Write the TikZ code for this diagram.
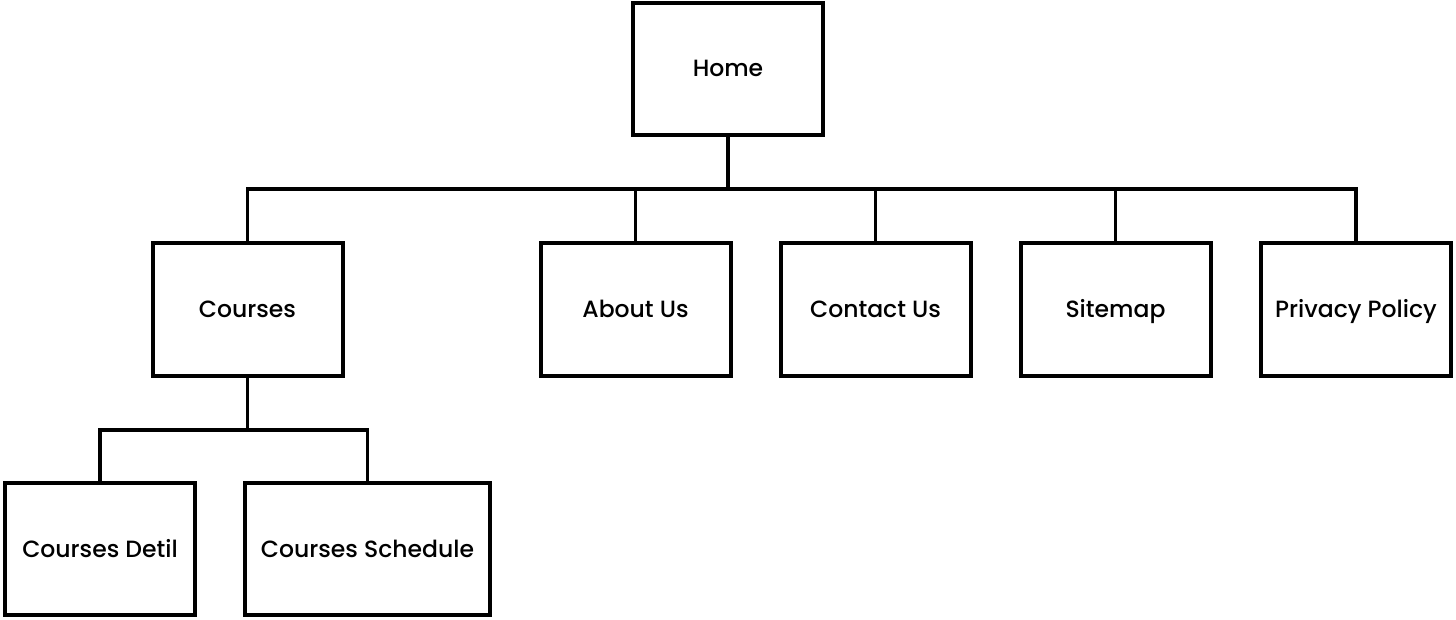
\documentclass[tikz,border=0pt]{standalone}
\usepackage{fontspec}
\setmainfont{Poppins}[UprightFont=* Medium]
\tikzset{
  pagebox/.style={draw, line width=4pt, rectangle, inner sep=2pt, outer sep=0pt,
    minimum width=#1, minimum height=132pt, text height=1.6em, text depth=0pt,
    font=\fontsize{23.5}{26}\selectfont},
  pagebox/.default=190pt,
  link/.style={line width=3.2pt}
}
\begin{document}
\begin{tikzpicture}[x=1pt,y=-1pt]
\useasboundingbox (0,0) rectangle (1456,620);

%Top level
\node [pagebox] (home) at (728,69) {Home};

%Second level
\node [pagebox] (courses) at (247.5,309.5) {Courses};
\node [pagebox] (about) at (635.5,309.5) {About Us};
\node [pagebox] (contact) at (875.5,309.5) {Contact Us};
\node [pagebox] (sitemap) at (1115.5,309.5) {Sitemap};
\node [pagebox] (privacy) at (1356,309.5) {Privacy Policy};

%Third level
\node [pagebox] (detil) at (100,549) {Courses Detil};
\node [pagebox=245pt] (schedule) at (367.5,549) {Courses Schedule};

%Connectors
\coordinate (topbus) at (728,189);
\coordinate (subbus) at (247.5,430);
\draw [link] (home.south) -- (topbus);
\draw [link] (courses.north) |- (topbus) -| (privacy.north);
\foreach \n in {about,contact,sitemap}
  \draw [link] (\n.north) -- (\n.north |- topbus);
\draw [link] (courses.south) -- (subbus);
\draw [link] (detil.north) |- (subbus) -| (schedule.north);

\end{tikzpicture}
\end{document}
